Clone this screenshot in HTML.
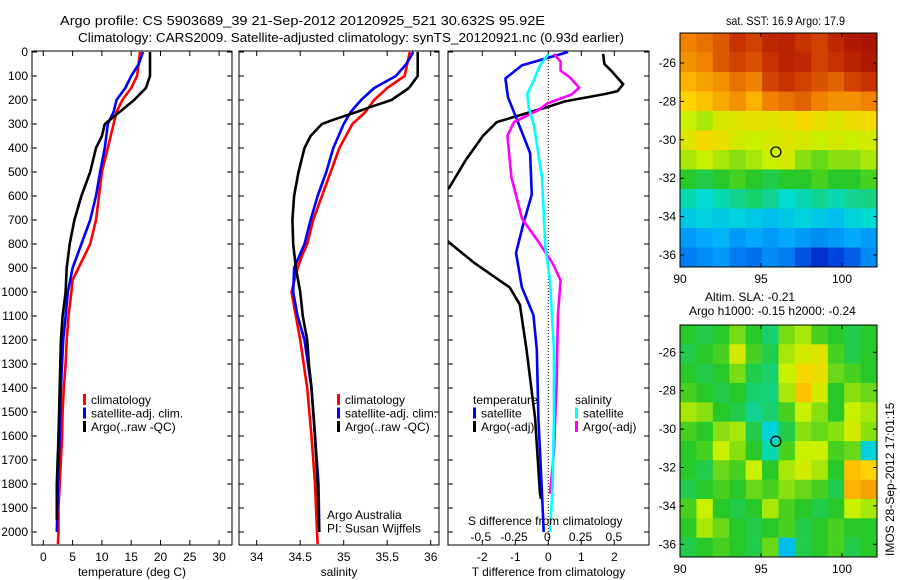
<!DOCTYPE html>
<html><head><meta charset="utf-8"><style>
body{margin:0;background:#fff;}
svg{display:block;font-family:"Liberation Sans",sans-serif;}
</style></head><body>
<svg id="fig" width="900" height="580" viewBox="0 0 900 580" xmlns="http://www.w3.org/2000/svg">
<rect width="900" height="580" fill="#fff"/>
<text x="60" y="25" font-size="13" textLength="485" lengthAdjust="spacingAndGlyphs">Argo profile: CS 5903689_39 21-Sep-2012 20120925_521 30.632S 95.92E</text>
<text x="78" y="42" font-size="13" textLength="546" lengthAdjust="spacingAndGlyphs">Climatology: CARS2009. Satellite-adjusted climatology: synTS_20120921.nc (0.93d earlier)</text>
<text x="726" y="25" font-size="12" textLength="119" lengthAdjust="spacingAndGlyphs">sat. SST: 16.9 Argo: 17.9</text>
<text x="705" y="301" font-size="12">Altim. SLA: -0.21</text>
<text x="689" y="315" font-size="12">Argo h1000: -0.15 h2000: -0.24</text>
<text transform="translate(894,556) rotate(-90)" font-size="12">IMOS 28-Sep-2012 17:01:15</text>
<g id="layer"></g>
</svg>
<script>
// ---------- data ----------
const tDepth = [0,100,150,200,250,300,400,500,600,700,800,900,950,1000,1100,1200,1300,1400,1500,1600,1700,1800,1900,2000,2050];
const tClim  = [16.5,16,15,13.5,12.5,12,11,10,9.5,9,8,6,5,4.8,4.3,4,3.8,3.5,3.3,3.2,3,2.8,2.6,2.6,2.5];
const tSatDepth = [0,50,100,150,200,250,300,400,500,600,700,800,900,1000,1100,1200,1400,1600,1800,2000];
const tSat   = [17,16.3,15,14,12.5,12,11,10.5,9.7,9,8,6.5,5,4.2,3.8,3.4,3,2.8,2.5,2.3];
const tArgoDepth = [0,100,150,200,250,280,300,350,400,500,600,700,800,900,1000,1100,1200,1400,1600,1800,1950];
const tArgo  = [18.2,18.2,17.5,15.5,13,11.5,10.5,10,9,8,6.5,5.3,4.5,4,3.8,3.3,3,2.8,2.6,2.3,2.3];

const sDepth = [0,100,150,200,250,300,400,500,600,700,800,850,900,1000,1200,1400,1600,1800,2050];
const sClim  = [35.76,35.7,35.5,35.35,35.25,35.1,34.95,34.85,34.75,34.65,34.58,34.52,34.47,34.4,34.5,34.58,34.63,34.67,34.7];
const sSatDepth = [0,50,100,150,200,250,300,400,500,600,700,800,900,1000,1100,1200,1400,1600,1800,2000];
const sSat   = [35.8,35.72,35.6,35.35,35.2,35.08,35,34.88,34.8,34.7,34.62,34.55,34.43,34.42,34.47,34.55,34.63,34.67,34.71,34.72];
const sArgoDepth = [0,100,150,200,230,250,280,300,350,400,500,600,700,800,900,1000,1100,1200,1300,1400,1600,1800,2000];
const sArgo  = [35.85,35.85,35.75,35.55,35.3,35.15,34.9,34.75,34.62,34.55,34.48,34.43,34.41,34.42,34.45,34.5,34.53,34.58,34.6,34.63,34.67,34.7,34.72];

const dTSatDepth = [0,56,110,189,278,421,593,723,837,981,1096,1239,1526,1813,2000];
const dTSat  = [0.6,-0.8,-1.3,-1.22,-0.96,-0.55,-0.5,-0.77,-0.98,-0.8,-0.45,-0.35,-0.3,-0.2,-0.14];
const dTArgoDepth = [8,50,77,134,163,175,206,228,292,349,450,565,650,720,794,880,981,1053,1239,1526,1841,1862];
const dTArgo = [1.66,1.7,1.9,2.27,2.1,1.72,0.5,0,-1.56,-1.98,-2.5,-3.0,-3.6,-3.6,-3.0,-2.23,-1.17,-0.86,-0.66,-0.4,-0.25,-0.22];
const dSSatDepth = [8,56,117,174,231,307,522,809,952,1239,1526,1813,2000];
const dSSat  = [0.01,-0.055,-0.1,-0.15,-0.14,-0.1,-0.04,-0.015,0.02,0.05,0.05,0.04,0.02];
const dSArgoDepth = [8,40,78,106,149,178,214,243,292,349,522,694,780,880,952,1096,1383,1669,1841];
const dSArgo = [0.05,0.1,0.1,0.17,0.24,0.18,0.0,-0.07,-0.25,-0.3,-0.27,-0.19,-0.08,0.04,0.1,0.08,0.07,0.05,0.02];

const depthTicks = [0,100,200,300,400,500,600,700,800,900,1000,1100,1200,1300,1400,1500,1600,1700,1800,1900,2000];
const tTicks = [0,5,10,15,20,25,30];
const sTicks = [34,34.5,35,35.5,36];
const dTTicks = [-2,-1,0,1,2];
const dSTicks = [-0.5,-0.25,0,0.25,0.5];
const lonTicks = [90,95,100];
const latTicks = [-26,-28,-30,-32,-34,-36];
const argoLon = 95.92, argoLat = -30.632;

const sstGrid = [
[.80,.82,.85,.90,.88,.92,.93,.90,.88,.92,.95,.96],
[.78,.80,.85,.88,.86,.90,.93,.92,.88,.90,.93,.95],
[.74,.76,.78,.82,.80,.88,.90,.88,.86,.84,.88,.90],
[.70,.72,.75,.78,.74,.80,.82,.84,.80,.78,.78,.80],
[.60,.58,.62,.64,.66,.64,.66,.68,.66,.64,.66,.68],
[.64,.68,.66,.62,.60,.62,.64,.62,.60,.62,.60,.62],
[.58,.60,.58,.56,.58,.60,.62,.56,.54,.56,.56,.58],
[.50,.48,.50,.52,.50,.48,.50,.50,.52,.50,.50,.52],
[.42,.40,.42,.44,.46,.44,.40,.42,.44,.42,.44,.45],
[.36,.38,.36,.38,.36,.34,.36,.38,.36,.34,.38,.40],
[.28,.30,.32,.28,.30,.28,.30,.28,.26,.28,.30,.28],
[.24,.26,.28,.24,.22,.26,.24,.18,.12,.16,.20,.26]];
const slaGrid = [
[.50,.48,.50,.55,.50,.46,.55,.58,.52,.50,.48,.50],
[.48,.50,.52,.62,.52,.48,.58,.62,.64,.52,.48,.50],
[.50,.48,.50,.55,.48,.46,.60,.68,.66,.54,.52,.50],
[.52,.50,.48,.50,.46,.45,.58,.72,.62,.50,.56,.54],
[.58,.56,.50,.48,.44,.46,.52,.60,.56,.50,.60,.58],
[.52,.50,.56,.58,.48,.38,.48,.56,.54,.56,.62,.56],
[.50,.52,.60,.56,.50,.42,.52,.60,.60,.52,.54,.38],
[.50,.48,.54,.52,.60,.50,.58,.62,.58,.50,.72,.70],
[.48,.50,.52,.50,.54,.52,.56,.54,.52,.48,.74,.76],
[.52,.60,.50,.48,.50,.58,.52,.50,.48,.50,.60,.58],
[.50,.58,.54,.50,.48,.50,.52,.48,.50,.52,.50,.50],
[.48,.50,.52,.50,.48,.54,.34,.48,.50,.52,.48,.50]];

// ---------- drawing ----------
const NS='http://www.w3.org/2000/svg';
const layer=document.getElementById('layer');
function mk(tag,attrs,parent){const e=document.createElementNS(NS,tag);for(const k in attrs)e.setAttribute(k,attrs[k]);(parent||layer).appendChild(e);return e;}
const yD = d => 52 + d*0.24;
const PT=51, PB=545;

function panel(name,x0,x1,xs,xticks,xlabelFmt,xtitle,showY){
  const g=mk('g',{});
  
  
  const cp=mk('clipPath',{id:'clip-'+name},g);
  mk('rect',{x:x0,y:PT,width:x1-x0,height:PB-PT},cp);
  const ax=mk('rect',{x:x0,y:PT,width:x1-x0,height:PB-PT,fill:'none',stroke:'#000','stroke-width':1},g);
  
  
  depthTicks.forEach(d=>{
    const y=yD(d);
    mk('line',{x1:x0,x2:x0+5,y1:y,y2:y,stroke:'#000'},g);
    mk('line',{x1:x1-5,x2:x1,y1:y,y2:y,stroke:'#000'},g);
    if(showY){const t=mk('text',{x:x0-4,y:y+4,'font-size':12,'text-anchor':'end'},g);t.textContent=d;
      
      }
  });
  xticks.forEach(v=>{
    const x=xs(v);
    mk('line',{x1:x,x2:x,y1:PB,y2:PB-5,stroke:'#000'},g);
    mk('line',{x1:x,x2:x,y1:PT,y2:PT+5,stroke:'#000'},g);
    const t=mk('text',{x:x,y:561,'font-size':12,'text-anchor':'middle'},g);t.textContent=xlabelFmt(v);
    
    
  });
  const tt=mk('text',{x:(x0+x1)/2,y:576,'font-size':12,'text-anchor':'middle'},g);tt.textContent=xtitle;
  
  
  return g;
}
function line(g,name,clip,xs,vals,depths,color,w){
  const pts=vals.map((v,i)=>xs(v).toFixed(1)+','+yD(depths[i]).toFixed(1)).join(' ');
  const p=mk('polyline',{points:pts,fill:'none',stroke:color,'stroke-width':w||2.6,'stroke-linejoin':'round','clip-path':'url(#clip-'+clip+')'},g);
  
  
}
function legend(g,x,y,items){
  items.forEach((it,i)=>{
    const yy=y+i*13.5;
    if(it.c) mk('rect',{x:x,y:yy-10,width:3,height:11,fill:it.c},g);
    const t=mk('text',{x:x+(it.c?8:0),y:yy,'font-size':12},g);t.textContent=it.t;
    
    
  });
}

// temperature panel
const xT=v=>43.3+v*5.86;
const gT=panel('temperature-panel',32,232,xT,tTicks,v=>v,'temperature (deg C)',true);
line(gT,'temp-climatology-line','temperature-panel',xT,tClim,tDepth,'#f00');
line(gT,'temp-satellite-line','temperature-panel',xT,tSat,tSatDepth,'#00f');
line(gT,'temp-argo-line','temperature-panel',xT,tArgo,tArgoDepth,'#000');
legend(gT,83,404,[{c:'#f00',t:'climatology'},{c:'#00f',t:'satellite-adj. clim.'},{c:'#000',t:'Argo(..raw -QC)'}]);

// salinity panel
const xS=v=>256.7+(v-34)*87;
const gS=panel('salinity-panel',239,439,xS,sTicks,v=>v,'salinity',false);
line(gS,'sal-climatology-line','salinity-panel',xS,sClim,sDepth,'#f00');
line(gS,'sal-satellite-line','salinity-panel',xS,sSat,sSatDepth,'#00f');
line(gS,'sal-argo-line','salinity-panel',xS,sArgo,sArgoDepth,'#000');
legend(gS,337,404,[{c:'#f00',t:'climatology'},{c:'#00f',t:'satellite-adj. clim.'},{c:'#000',t:'Argo(..raw -QC)'}]);
legend(gS,327,519,[{t:'Argo Australia'},{t:'PI: Susan Wijffels'}]);

// difference panel
const xDT=v=>548.3+v*33;
const xDS=v=>547.3+v*133;
const gD=panel('difference-panel',448,649,xDT,dTTicks,v=>v,'T difference from climatology',false);
const zl=mk('line',{x1:xDT(0),x2:xDT(0),y1:PT,y2:PB,stroke:'#000','stroke-dasharray':'1,2'},gD);


line(gD,'dT-argo-line','difference-panel',xDT,dTArgo,dTArgoDepth,'#000');
line(gD,'dT-satellite-line','difference-panel',xDT,dTSat,dTSatDepth,'#00f');
line(gD,'dS-argo-line','difference-panel',xDS,dSArgo,dSArgoDepth,'#f0f');
line(gD,'dS-satellite-line','difference-panel',xDS,dSSat,dSSatDepth,'#0ff');
legend(gD,473,404,[{t:'temperature'}]);
legend(gD,473,417.5,[{c:'#00f',t:'satellite'},{c:'#000',t:'Argo(-adj)'}]);
legend(gD,575,404,[{t:'salinity'}]);
legend(gD,575,417.5,[{c:'#0ff',t:'satellite'},{c:'#f0f',t:'Argo(-adj)'}]);
const sdt=mk('text',{x:468,y:525,'font-size':12},gD);sdt.textContent='S difference from climatology';


dSTicks.forEach(v=>{const t=mk('text',{x:xDS(v),y:541,'font-size':12,'text-anchor':'middle'},gD);t.textContent=v;
  
  });

// maps
const stops=[[0,[0,0,140]],[.15,[0,60,220]],[.3,[0,170,255]],[.4,[0,220,210]],[.5,[40,200,40]],[.6,[200,240,0]],[.7,[255,210,0]],[.8,[240,130,0]],[.9,[200,50,0]],[1,[150,0,0]]];
function cmap(v){for(let i=1;i<stops.length;i++){if(v<=stops[i][0]){const a=stops[i-1],b=stops[i],f=(v-a[0])/(b[0]-a[0]);return 'rgb('+a[1].map((c,k)=>Math.round(c+(b[1][k]-c)*f)).join(',')+')';}}return 'rgb(150,0,0)';}
function map(name,top,bot,lat26y,grid){
  const x0=680,x1=877;
  const xL=lon=>680+(lon-90)*16.2, yL=lat=>lat26y+(-26-lat)*19.2;
  const g=mk('g',{});
  
  
  const cp=mk('clipPath',{id:'clip-'+name},g);
  mk('rect',{x:x0,y:top,width:x1-x0,height:bot-top},cp);
  const cg=mk('g',{'clip-path':'url(#clip-'+name+')'},g);
  const ch=(bot-top)/grid.length, cw=(x1-x0)/grid[0].length;
  grid.forEach((row,r)=>row.forEach((v,c)=>{
    const cell=mk('rect',{x:(x0+c*cw).toFixed(1),y:(top+r*ch).toFixed(1),width:(cw+0.3).toFixed(1),height:(ch+0.3).toFixed(1),fill:cmap(v)},cg);
    
    
  }));
  mk('rect',{x:x0,y:top,width:x1-x0,height:bot-top,fill:'none',stroke:'#000'},g);
  lonTicks.forEach(l=>{const x=xL(l);mk('line',{x1:x,x2:x,y1:bot,y2:bot-4,stroke:'#000'},g);mk('line',{x1:x,x2:x,y1:top,y2:top+4,stroke:'#000'},g);
    const t=mk('text',{x:x,y:bot+16,'font-size':12,'text-anchor':'middle'},g);t.textContent=l;
    
    });
  latTicks.forEach(l=>{const y=yL(l);mk('line',{x1:x0,x2:x0+4,y1:y,y2:y,stroke:'#000'},g);mk('line',{x1:x1-4,x2:x1,y1:y,y2:y,stroke:'#000'},g);
    const t=mk('text',{x:x0-4,y:y+4,'font-size':12,'text-anchor':'end'},g);t.textContent=l;
    
    });
  const m=mk('circle',{cx:xL(argoLon),cy:yL(argoLat),r:5,fill:'none',stroke:'#000','stroke-width':1.2},g);
  
  
}
map('sst-map',33,267,63,sstGrid);
map('sla-map',325,557,352.3,slaGrid);
</script>
</body></html>
